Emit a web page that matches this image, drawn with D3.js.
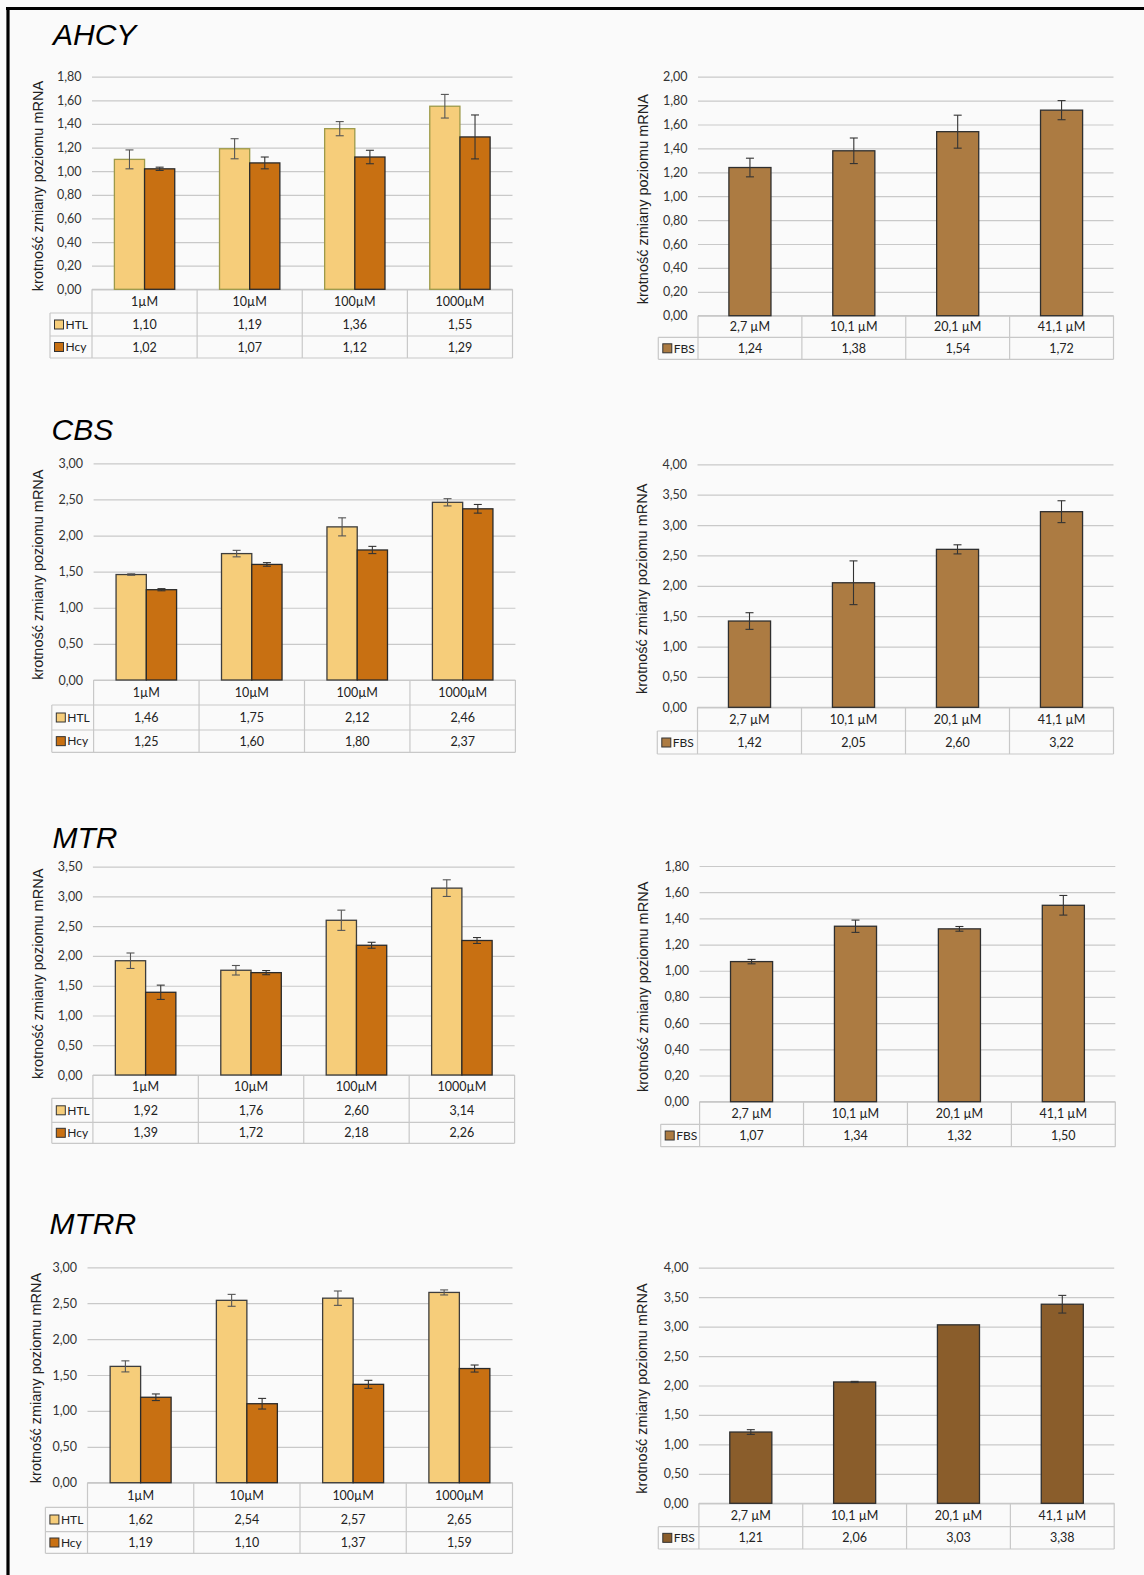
<!DOCTYPE html>
<html>
<head>
<meta charset="utf-8">
<script src="https://cdn.jsdelivr.net/npm/d3@7"></script>
<style>
  body { margin: 0; background: #fafafa; }
  svg { display: block; }
</style>
</head>
<body>
<svg id="chart" width="1144" height="1575"></svg>
<script>
// ---------- data ----------
const geneNames = ["AHCY", "CBS", "MTR", "MTRR"];
const doseLabels = ["1µM", "10µM", "100µM", "1000µM"];
const fbsLabels = ["2,7 µM", "10,1 µM", "20,1 µM", "41,1 µM"];
const seriesNames = ["HTL", "Hcy", "FBS"];

const ahcyHTL = [1.10, 1.19, 1.36, 1.55];
const ahcyHTLErr = [0.08, 0.085, 0.06, 0.10];
const ahcyHcy = [1.02, 1.07, 1.12, 1.29];
const ahcyHcyErr = [0.014, 0.05, 0.057, 0.186];
const ahcyFBS = [1.24, 1.38, 1.54, 1.72];
const ahcyFBSErr = [0.078, 0.107, 0.138, 0.08];

const cbsHTL = [1.46, 1.75, 2.12, 2.46];
const cbsHTLErr = [0.01, 0.045, 0.125, 0.05];
const cbsHcy = [1.25, 1.60, 1.80, 2.37];
const cbsHcyErr = [0.015, 0.025, 0.05, 0.06];
const cbsFBS = [1.42, 2.05, 2.60, 3.22];
const cbsFBSErr = [0.137, 0.36, 0.075, 0.18];

const mtrHTL = [1.92, 1.76, 2.60, 3.14];
const mtrHTLErr = [0.13, 0.08, 0.17, 0.14];
const mtrHcy = [1.39, 1.72, 2.18, 2.26];
const mtrHcyErr = [0.12, 0.035, 0.05, 0.05];
const mtrFBS = [1.07, 1.34, 1.32, 1.50];
const mtrFBSErr = [0.017, 0.047, 0.018, 0.075];

const mtrrHTL = [1.62, 2.54, 2.57, 2.65];
const mtrrHTLErr = [0.077, 0.083, 0.10, 0.035];
const mtrrHcy = [1.19, 1.10, 1.37, 1.59];
const mtrrHcyErr = [0.046, 0.074, 0.056, 0.049];
const mtrrFBS = [1.21, 2.06, 3.03, 3.38];
const mtrrFBSErr = [0.04, 0.01, 0, 0.15];

const ticksTo180 = [0, 0.2, 0.4, 0.6, 0.8, 1.0, 1.2, 1.4, 1.6, 1.8];
const ticksTo200 = [0, 0.2, 0.4, 0.6, 0.8, 1.0, 1.2, 1.4, 1.6, 1.8, 2.0];
const ticksTo300 = [0, 0.5, 1.0, 1.5, 2.0, 2.5, 3.0];
const ticksTo350 = [0, 0.5, 1.0, 1.5, 2.0, 2.5, 3.0, 3.5];
const ticksTo400 = [0, 0.5, 1.0, 1.5, 2.0, 2.5, 3.0, 3.5, 4.0];

const yTitle = "krotność zmiany poziomu mRNA";

// ---------- styles ----------
const FILL_HTL = "#f6cd7a", FILL_HCY = "#c87012", FILL_FBS = "#ac7b42", FILL_FBS_DARK = "#8a5d2b";
const numFmt = v => d3.format(".2f")(v).replace(".", ",");
const svg = d3.select("#chart");

// page frame
svg.append("rect").attr("width", 1144).attr("height", 1575).attr("fill", "#fafafa");
svg.append("line").attr("x1", 6).attr("x2", 1144).attr("y1", 8.5).attr("y2", 8.5)
  .attr("stroke", "#000").attr("stroke-width", 3);
svg.append("line").attr("x1", 8).attr("x2", 8).attr("y1", 7).attr("y2", 1575)
  .attr("stroke", "#000").attr("stroke-width", 3.2);

function drawPanel(L, spec) {
  const g = svg.append("g");
  const y = d3.scaleLinear().domain([0, d3.max(spec.ticks)]).range([L.y0, L.yTop]);
  const cells = d3.scaleBand().domain(spec.categories).range([L.left, L.right]);
  const pad = spec.series.length > 1 ? 0.426 : 0.595;
  const x = d3.scaleBand().domain(spec.categories).range([L.left, L.right])
    .paddingInner(pad).paddingOuter(pad / 2);
  const xs = d3.scaleBand().domain(spec.series.map(s => s.name)).range([0, x.bandwidth()]);

  // gridlines + tick labels
  const axis = d3.axisLeft(y).tickValues(spec.ticks).tickFormat(numFmt)
    .tickSize(-(L.right - L.left)).tickPadding(10.5);
  const ag = g.append("g").attr("transform", `translate(${L.left},0)`).call(axis);
  ag.select(".domain").remove();
  ag.selectAll(".tick line").attr("stroke", "#c9c9c9").attr("stroke-width", 1.2);
  ag.selectAll(".tick text").attr("fill", "#333").style("font-family", "Lato")
    .style("font-size", "12.5px");

  // y title
  g.append("text")
    .attr("transform", `translate(${L.yLabelX},${(L.yTop + L.y0) / 2 + 3}) rotate(-90)`)
    .attr("text-anchor", "middle").attr("dy", "0.35em")
    .style("font-family", "Liberation Sans").style("font-size", "14.5px").attr("fill", "#222")
    .text(yTitle);

  // gene title
  if (spec.title) {
    g.append("text").attr("x", L.titleX).attr("y", L.titleY)
      .style("font-family", "Liberation Sans").style("font-style", "italic")
      .style("font-size", "30px").attr("fill", "#000").text(spec.title);
  }

  // table lines
  const bottom = L.rows[L.rows.length - 1];
  const tl = g.append("g").attr("stroke", "#c8c8c8").attr("stroke-width", 1.2);
  tl.append("line").attr("x1", L.left).attr("x2", L.right).attr("y1", L.y0).attr("y2", L.y0);
  L.rows.forEach(r => tl.append("line").attr("x1", L.legL).attr("x2", L.right).attr("y1", r).attr("y2", r));
  const bounds = spec.categories.map(c => cells(c)).concat([L.right]);
  bounds.forEach(b => tl.append("line").attr("x1", b).attr("x2", b).attr("y1", L.y0).attr("y2", bottom));
  tl.append("line").attr("x1", L.legL).attr("x2", L.legL).attr("y1", L.rows[0]).attr("y2", bottom);

  // header row
  g.selectAll(".hdr").data(spec.categories).join("text")
    .attr("x", c => cells(c) + cells.bandwidth() / 2).attr("y", (L.y0 + L.rows[0]) / 2)
    .attr("dy", "0.36em").attr("text-anchor", "middle")
    .style("font-family", "Lato").style("font-size", "12.5px").attr("fill", "#222").text(c => c);

  spec.series.forEach((s, si) => {
    const top = L.rows[si], bot = L.rows[si + 1];
    const mid = (top + bot) / 2;
    // legend key
    g.append("rect").attr("x", L.legL + 4.5).attr("y", mid - 4.5).attr("width", 9).attr("height", 9)
      .attr("fill", s.fill).attr("stroke", "#333").attr("stroke-width", 1);
    g.append("text").attr("x", L.legL + 15.5).attr("y", mid).attr("dy", "0.36em")
      .style("font-family", "Lato").style("font-size", "12px").attr("fill", "#222").text(s.name);
    // values
    g.selectAll(null).data(s.values).join("text")
      .attr("x", (d, i) => cells(spec.categories[i]) + cells.bandwidth() / 2).attr("y", mid)
      .attr("dy", "0.36em").attr("text-anchor", "middle")
      .style("font-family", "Lato").style("font-size", "12.5px").attr("fill", "#222").text(numFmt);

    // bars
    g.selectAll(null).data(s.values).join("rect")
      .attr("x", (d, i) => x(spec.categories[i]) + xs(s.name))
      .attr("y", d => y(d)).attr("width", xs.bandwidth()).attr("height", d => L.y0 - y(d))
      .attr("fill", s.fill).attr("stroke", s.stroke).attr("stroke-width", 1.3);

    // error bars
    const eg = g.append("g").attr("stroke", s.errStroke).attr("stroke-width", 1.1).attr("fill", "none");
    s.values.forEach((v, i) => {
      const e = s.errors[i];
      if (!e) return;
      const cx = x(spec.categories[i]) + xs(s.name) + xs.bandwidth() / 2;
      eg.append("line").attr("x1", cx).attr("x2", cx).attr("y1", y(v + e)).attr("y2", y(v - e));
      [v + e, v - e].forEach(t => eg.append("line").attr("x1", cx - 4).attr("x2", cx + 4)
        .attr("y1", y(t)).attr("y2", y(t)));
    });
  });
}

function pair(htl, htlErr, hcy, hcyErr, htlStroke) {
  return [
    { name: seriesNames[0], values: htl, errors: htlErr, fill: FILL_HTL, stroke: htlStroke, errStroke: "#555" },
    { name: seriesNames[1], values: hcy, errors: hcyErr, fill: FILL_HCY, stroke: "#2a2a2a", errStroke: "#333" }
  ];
}
function single(vals, errs, fill) {
  return [{ name: seriesNames[2], values: vals, errors: errs, fill: fill, stroke: "#2f2f2f", errStroke: "#333" }];
}

// AHCY
drawPanel({ left: 92, right: 512.5, yTop: 76.7, y0: 289.3, legL: 50, rows: [313, 336, 358],
            yLabelX: 37.5, titleX: 53, titleY: 45 },
          { title: geneNames[0], categories: doseLabels, ticks: ticksTo180,
            series: pair(ahcyHTL, ahcyHTLErr, ahcyHcy, ahcyHcyErr, "#9d9a4a") });
drawPanel({ left: 698, right: 1113.5, yTop: 76.7, y0: 315.7, legL: 658.3, rows: [337.3, 359.3],
            yLabelX: 643.4 },
          { categories: fbsLabels, ticks: ticksTo200, series: single(ahcyFBS, ahcyFBSErr, FILL_FBS) });

// CBS
drawPanel({ left: 93.6, right: 515.4, yTop: 463.3, y0: 680, legL: 51.8, rows: [705, 730, 752.3],
            yLabelX: 37.5, titleX: 51.5, titleY: 440 },
          { title: geneNames[1], categories: doseLabels, ticks: ticksTo300,
            series: pair(cbsHTL, cbsHTLErr, cbsHcy, cbsHcyErr, "#3d3d3d") });
drawPanel({ left: 697.5, right: 1113.5, yTop: 464.3, y0: 707.3, legL: 657.3, rows: [731, 754],
            yLabelX: 642.3 },
          { categories: fbsLabels, ticks: ticksTo400, series: single(cbsFBS, cbsFBSErr, FILL_FBS) });

// MTR
drawPanel({ left: 92.9, right: 514.6, yTop: 866.7, y0: 1075, legL: 51.8, rows: [1098.3, 1122.3, 1143.3],
            yLabelX: 37.5, titleX: 52.5, titleY: 848 },
          { title: geneNames[2], categories: doseLabels, ticks: ticksTo350,
            series: pair(mtrHTL, mtrHTLErr, mtrHcy, mtrHcyErr, "#3d3d3d") });
drawPanel({ left: 699.6, right: 1115.3, yTop: 866, y0: 1101.7, legL: 660.7, rows: [1124.3, 1146.7],
            yLabelX: 643.4 },
          { categories: fbsLabels, ticks: ticksTo180, series: single(mtrFBS, mtrFBSErr, FILL_FBS) });

// MTRR
drawPanel({ left: 87.5, right: 512.5, yTop: 1267.3, y0: 1482.7, legL: 45.4, rows: [1507.3, 1531.7, 1553.3],
            yLabelX: 35.7, titleX: 49.5, titleY: 1234 },
          { title: geneNames[3], categories: doseLabels, ticks: ticksTo300,
            series: pair(mtrrHTL, mtrrHTLErr, mtrrHcy, mtrrHcyErr, "#3d3d3d") });
drawPanel({ left: 698.9, right: 1114.2, yTop: 1267.7, y0: 1503.3, legL: 658.3, rows: [1526.7, 1549],
            yLabelX: 641.6 },
          { categories: fbsLabels, ticks: ticksTo400, series: single(mtrrFBS, mtrrFBSErr, FILL_FBS_DARK) });
</script>
</body>
</html>
